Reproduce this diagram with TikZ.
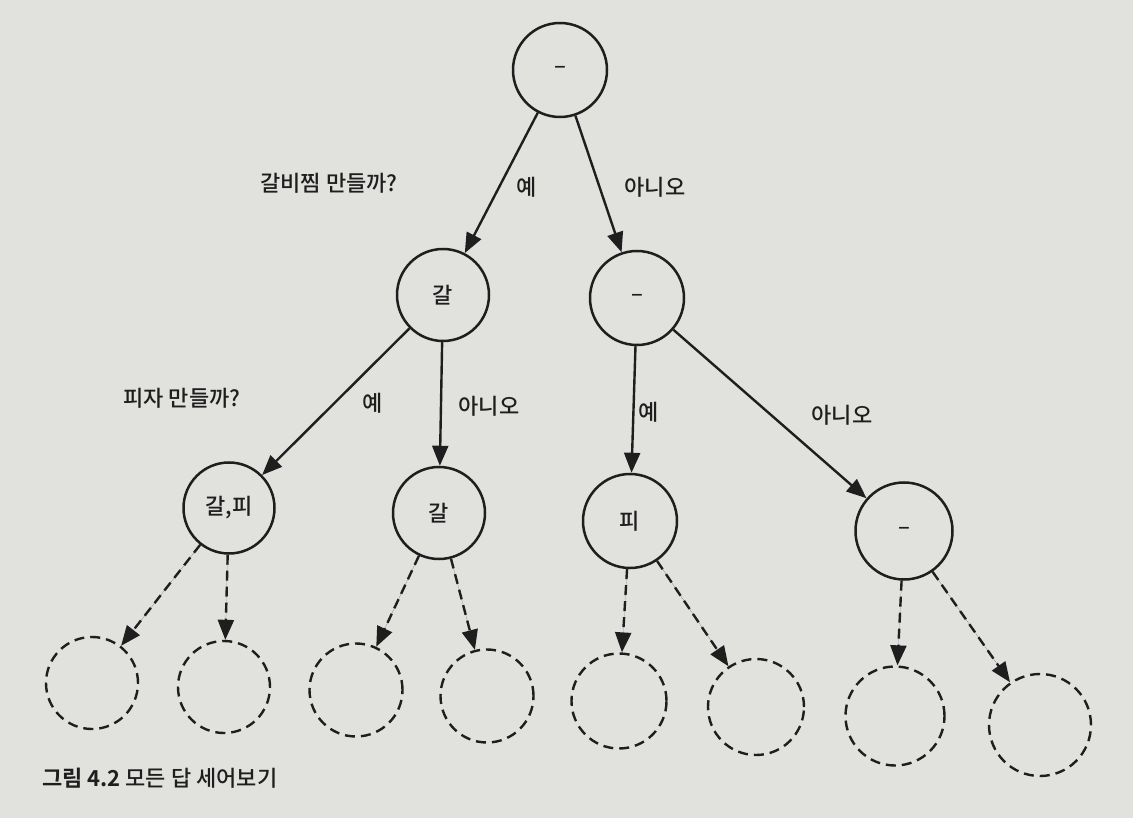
\documentclass[tikz,border=0pt]{standalone}
\usepackage{fontspec}
\setmainfont{Noto Sans CJK KR}[UprightFont=* Medium, BoldFont=* Bold]
\usetikzlibrary{arrows.meta}
\definecolor{ink}{HTML}{1E1E1E}
\definecolor{paper}{HTML}{E1E1DE}
\begin{document}
\begin{tikzpicture}[x=1pt,y=-1pt,
  st/.style={circle, draw=ink, line width=2.5pt, inner sep=0pt, text=ink, font=\fontsize{22}{26}\selectfont},
  dn/.style={circle, draw=ink, line width=2.4pt, dash pattern=on 10pt off 6pt, inner sep=0pt},
  ar/.style={-{Triangle[length=20pt,width=16pt]}, line width=2.4pt, draw=ink, fill=ink},
  dar/.style={ar, dash pattern=on 10pt off 6pt},
  lbl/.style={text=ink, inner sep=0pt, font=\fontsize{22}{26}\selectfont}]
\fill[paper] (0,0) rectangle (1133,818);
\useasboundingbox (0,0) rectangle (1133,818);
% solid nodes
\node[st, minimum size=94pt] (r)  at (560,70)  {–};
\node[st, minimum size=92pt] (a)  at (443,295) {갈};
\node[st, minimum size=94pt] (b)  at (637,298) {–};
\node[st, minimum size=91pt] (aa) at (229,508) {갈,피};
\node[st, minimum size=92pt] (ab) at (439,513) {갈};
\node[st, minimum size=94pt] (ba) at (630,521) {피};
\node[st, minimum size=97pt] (bb) at (904,531) {–};
% dashed nodes
\node[dn, minimum size=92pt]  (d1) at (92,683)   {};
\node[dn, minimum size=92pt]  (d2) at (224,687)  {};
\node[dn, minimum size=93pt]  (d3) at (356,690)  {};
\node[dn, minimum size=93pt]  (d4) at (487,696)  {};
\node[dn, minimum size=95pt]  (d5) at (619,701)  {};
\node[dn, minimum size=96pt]  (d6) at (756,707)  {};
\node[dn, minimum size=99pt]  (d7) at (895,716)  {};
\node[dn, minimum size=102pt] (d8) at (1040,725) {};
% solid connectors
\draw[ar] (r) -- (a);
\draw[ar] (r) -- (b);
\draw[ar] (a) -- (aa);
\draw[ar] (a) -- (ab);
\draw[ar] (b) -- (ba);
\draw[ar] (b) -- (bb);
% dashed connectors
\draw[dar] (aa) -- (d1);
\draw[dar] (aa) -- (d2);
\draw[dar] (ab) -- (d3);
\draw[dar] (ab) -- (d4);
\draw[dar] (ba) -- (d5);
\draw[dar] (ba) -- (d6);
\draw[dar] (bb) -- (d7);
\draw[dar] (bb) -- (d8);
% labels
\node[lbl] (q1) at (329,183) {갈비찜 만들까?};
\node[lbl] (y1) at (527,187) {예};
\node[lbl] (n1) at (655,187) {아니오};
\node[lbl] (q2) at (182,398) {피자 만들까?};
\node[lbl] (y2) at (373,403) {예};
\node[lbl] (n2) at (489,406) {아니오};
\node[lbl] (y3) at (649,412) {예};
\node[lbl] (n3) at (842,415) {아니오};
\node[lbl, anchor=west] (cap) at (42,778) {\textbf{그림 4.2} 모든 답 세어보기};
\end{tikzpicture}
\end{document}
